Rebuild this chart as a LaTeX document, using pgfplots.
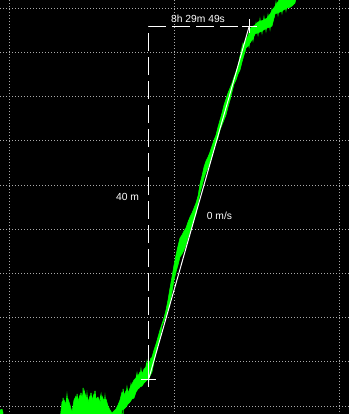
\documentclass[border=0pt]{standalone}
\usepackage{pgfplots}
\pgfplotsset{compat=1.18}
\usepackage{fontspec}
\setmainfont{Liberation Sans}
\definecolor{lime}{RGB}{0,255,0}
\definecolor{gridgray}{RGB}{170,170,170}
\begin{document}
\begin{tikzpicture}
\begin{axis}[
  name=ax,
  scale only axis, width=349bp, height=414bp,
  xmin=0, xmax=349, ymin=0, ymax=414, y dir=reverse,
  axis background/.style={fill=black},
  axis line style={draw=none},
  xtick={9,174,339}, ytick={8.2,52.4,96.6,140.8,185,229.2,273.4,317.6,361.8,406},
  xticklabels={}, yticklabels={}, major tick length=0pt,
  grid=major, grid style={gridgray, line width=0.8bp, dash pattern=on 1bp off 2bp},
  clip=true,
]
% green noisy band (upper envelope then lower envelope)
\addplot[fill=lime, draw=lime, line width=0.5bp] coordinates {
(60,420)(62,402)(64,400)(66,404)(68,399)(70,405)(72,412)(74,400)(76,396)(78,401)(80,395)(82,398)(84,390)(86,397)(88,402)(90,396)(92,400)(94,394)(96,399)(98,397)(100,403)(102,396)(104,401)(106,399)(108,406)(110,410)(112,413)(114,411)(116,409)(118,405)(120,400)(122,392)(124,395)(126,391)(128,393)(130,388)(132,384)(134,380)(136,378)(138,376)(140,372)(142,374)(144,369)(146,367)(148,363)(150,361)(152,357)(154,350)(156,344)(158,337)(160,330)(162,324)(164,318)(166,310)(168,300)(170,288)(172,277)(174,265)(176,255)(178,246)(180,238)(182,235)(184,231)(186,228)(188,222)(190,217)(192,213)(194,208)(196,203)(198,196)(200,184)(202,176)(204,167)(206,161)(208,157)(210,152)(212,146)(214,140)(216,135)(218,127)(220,120)(222,113)(224,105)(226,99)(228,93)(230,88)(232,83)(234,77)(236,72)(238,66)(240,56)(242,50)(244,43)(246,40)(248,36)(250,29)(252,27)(255,25)(258,22)(261,21)(264,20)(267,18)(270,14)(273,9)(276,5)(279,0)(282,-2)(296,-2)
(295,3)(292,6)(290,7)(287,8)(285,9)(282,11)(280,12)(277,13)(275,14)(272,26)(270,27)(267,28)(265,29)(262,31)(260,32)(257,33)(255,34)(252,40)(250,43)(248,46)(246,48)(244,55)(242,62)(240,70)(238,74)(236,80)(234,84)(232,92)(230,100)(228,107)(226,115)(224,120)(222,125)(220,130)(218,138)(216,143)(214,147)(212,155)(210,163)(208,168)(206,172)(204,178)(202,186)(200,193)(198,203)(196,214)(194,219)(192,225)(190,232)(188,238)(186,245)(184,250)(182,254)(180,257)(178,265)(176,272)(174,280)(172,292)(170,303)(168,309)(166,316)(164,321)(162,326)(160,338)(158,345)(156,352)(154,362)(152,372)(150,376)(148,379)(146,381)(144,383)(142,386)(140,387)(138,389)(136,392)(134,398)(132,399)(130,402)(128,404)(126,407)(124,409)(122,410)(120,420)
} --cycle;
\addplot[fill=lime, draw=lime] coordinates {(0,410)(2,409)(3,412)(3,420)(0,420)} --cycle;
% noise spikes
\addplot[lime, line width=1bp] coordinates {
(63,414)(63,398)(65,414)(67,396)(69,414)(77,414)(77,394)(79,414)(81,393)(83,414)(83,388)(85,414)(87,395)(89,414)(91,393)(93,414)(95,391)(97,414)(101,395)(103,414)(105,397)(107,414)(123,414)(123,389)(125,404)(127,388)(129,400)(131,385)(133,395)(137,374)(139,386)(141,370)(143,382)(147,362)(149,378)(151,358)
};
\addplot[lime, line width=1bp] coordinates {
(241,52)(243,44)(245,50)(247,38)(249,46)(251,30)(253,40)(256,24)(258,34)(260,20)(262,32)(264,18)(266,30)(268,16)(270,28)(272,10)(274,16)(276,3)(278,14)(280,0)(282,12)(284,0)(286,10)(288,0)(290,8)
};
% regression line
\addplot[white, line width=1bp] coordinates {(149,378)(249,27)};
% dashed measurement lines
\addplot[white, line width=1bp, dash pattern=on 18bp off 6bp] coordinates {(148,387)(148,27)(249,27)};
% crosses
\addplot[white, line width=1bp] coordinates {(141,379)(156,379)};
\addplot[white, line width=1bp] coordinates {(148,362)(148,387)};
\addplot[white, line width=1bp] coordinates {(242,27)(257,27)};
\addplot[white, line width=1bp] coordinates {(249,19)(249,33)};
% labels
\node[white, font=\fontsize{10.3bp}{12bp}\selectfont, inner sep=0pt] at (axis cs:198,19) {8h 29m 49s};
\node[white, font=\fontsize{10.3bp}{12bp}\selectfont, inner sep=0pt] at (axis cs:127.5,197) {40 m};
\node[white, font=\fontsize{10.3bp}{12bp}\selectfont, inner sep=0pt] at (axis cs:219.5,216) {0 m/s};
\end{axis}
\pgfresetboundingbox
\useasboundingbox (ax.south west) rectangle (ax.north east);
\end{tikzpicture}
\end{document}
